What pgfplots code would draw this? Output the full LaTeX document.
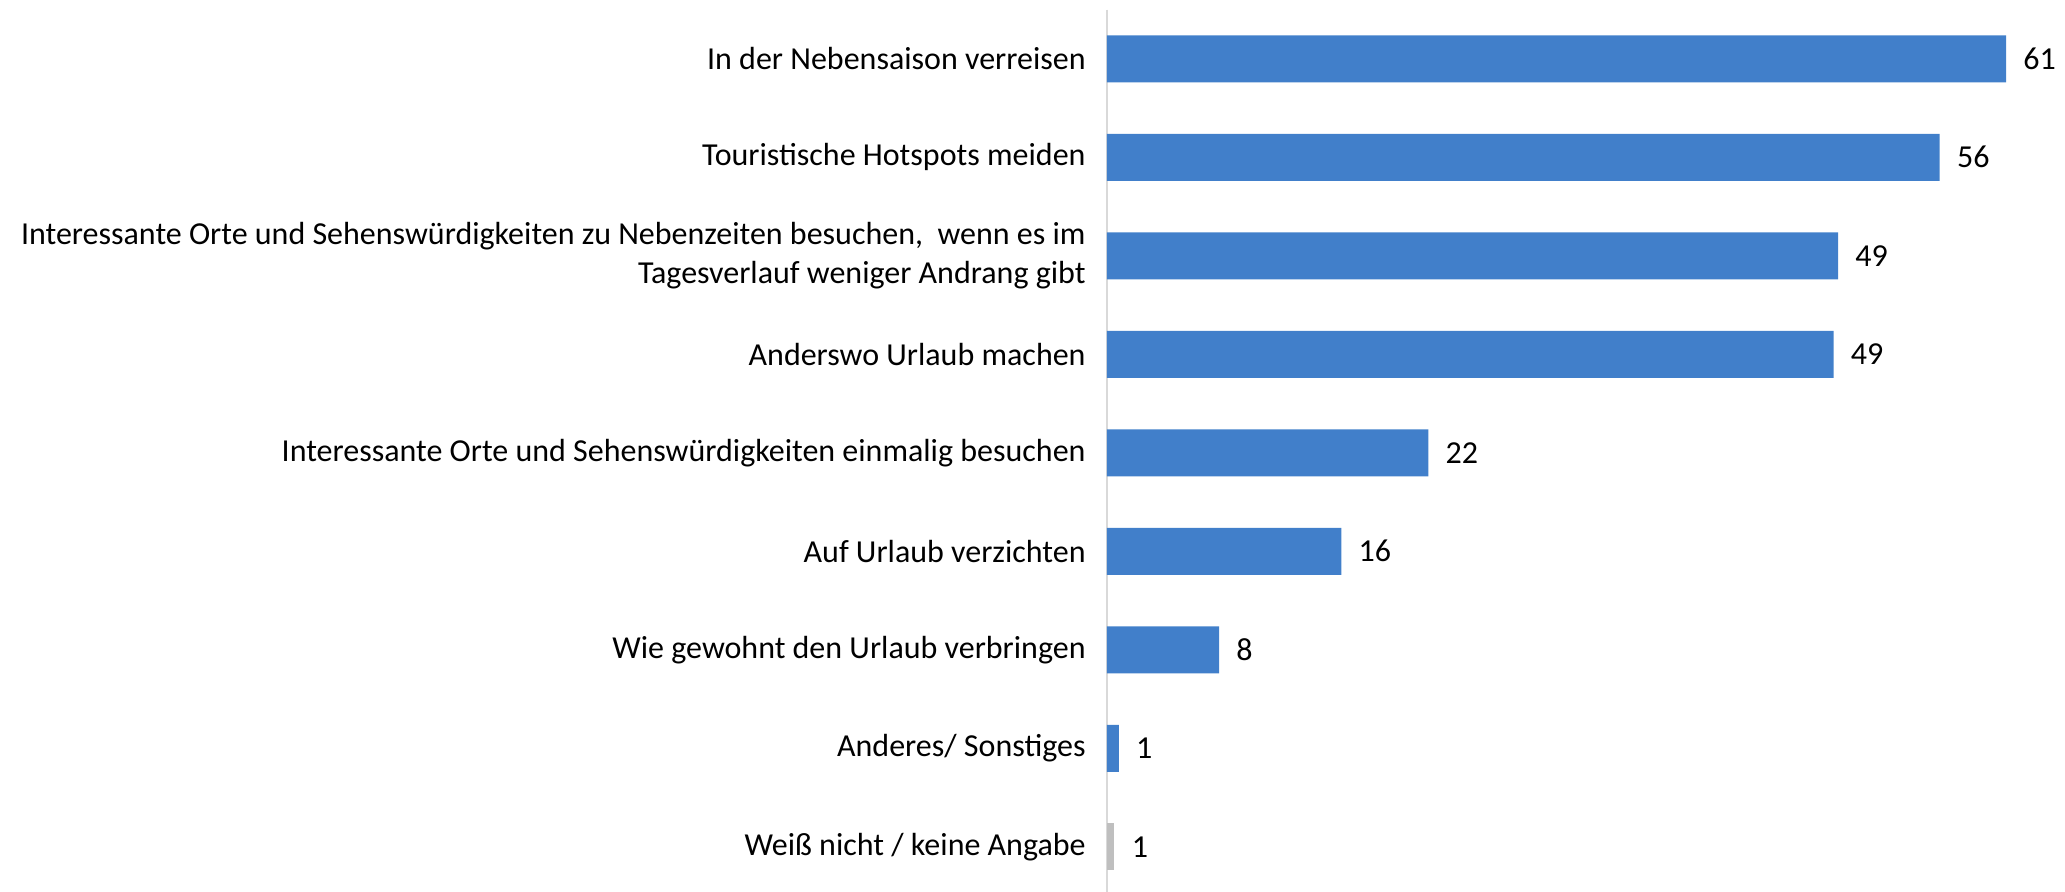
\documentclass[border=0pt]{standalone}
\usepackage{pgfplots}
\pgfplotsset{compat=1.18}
\usepackage{fontspec}
\setmainfont{Carlito}
\definecolor{barblue}{RGB}{65,127,202}
\definecolor{bargray}{RGB}{191,191,191}
\definecolor{axgray}{RGB}{217,217,217}
\begin{document}
\begin{tikzpicture}
\begin{axis}[
  scale only axis,
  width=479pt, height=443.25pt,
  xbar, bar width=23.5pt, bar shift=0pt,
  xmin=0, xmax=65,
  ymin=-0.5, ymax=8.5, y dir=reverse,
  axis x line=none,
  axis y line*=left,
  y axis line style={draw=axgray, line width=0.8pt},
  ytick={0,...,8},
  yticklabels={In der Nebensaison verreisen, Touristische Hotspots meiden, {Interessante Orte und Sehenswürdigkeiten zu Nebenzeiten besuchen,~ wenn es im\\Tagesverlauf weniger Andrang gibt}, Anderswo Urlaub machen, Interessante Orte und Sehenswürdigkeiten einmalig besuchen, Auf Urlaub verzichten, Wie gewohnt den Urlaub verbringen, Anderes/ Sonstiges, Weiß nicht / keine Angabe},
  major tick length=0pt,
  yticklabel style={align=right, font=\fontsize{16pt}{19.5pt}\selectfont, inner sep=0pt},
  ytick style={draw=none},
  y tick label style={xshift=-10.5pt},
  extra y ticks={-0.5,0.5,...,8.5},
  extra y tick labels={},
  extra y tick style={major tick length=5pt, tick align=outside, tick style={draw=axgray, line width=0.8pt}},
  point meta=explicit symbolic,
  nodes near coords,
  nodes near coords style={anchor=west, inner sep=0pt, xshift=8.5pt, font=\fontsize{16pt}{17pt}\selectfont, text=black},
  clip=false,
]
\addplot[fill=barblue, draw=none] table[x=v, y=c, meta=l] {
c v l
0 61.0 61
1 56.5 56
2 49.6 49
3 49.3 49
4 21.8 22
5 15.9 16
6 7.6 8
7 0.8 1
};
\addplot[fill=bargray, draw=none] table[x=v, y=c, meta=l] {
c v l
8 0.5 1
};
\end{axis}
\pgfresetboundingbox
\path[use as bounding box] (-553.5pt,2pt) rectangle (479pt,448pt);
\end{tikzpicture}
\end{document}
